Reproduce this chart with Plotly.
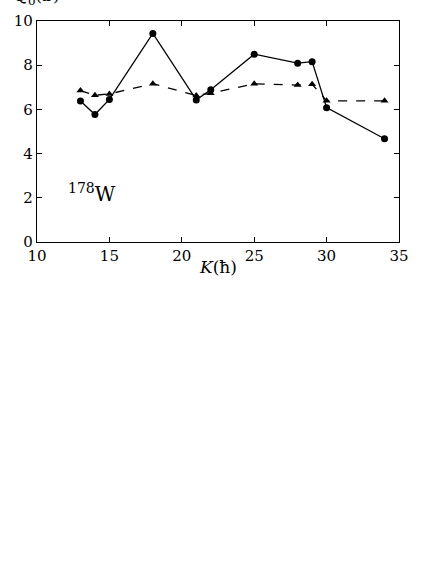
import plotly.graph_objects as go

# K values (hbar) and Q0 (b) for the two calculations
k_vals = [13, 14, 15, 18, 21, 22, 25, 28, 29, 30, 34]
q0_solid = [6.38, 5.77, 6.45, 9.44, 6.43, 6.89, 8.50, 8.09, 8.16, 6.08, 4.67]
q0_dashed = [6.85, 6.64, 6.70, 7.16, 6.63, 6.73, 7.16, 7.10, 7.14, 6.39, 6.39]

x_ticks = [10, 15, 20, 25, 30, 35]
y_ticks = [0, 2, 4, 6, 8, 10]

font_family = "DejaVu Serif"

fig = go.Figure()

fig.add_scatter(x=k_vals, y=q0_dashed, mode='lines+markers',
                line=dict(color='black', width=1.3, dash='dash'),
                marker=dict(symbol='triangle-up', size=7, color='black'),
                showlegend=False)

fig.add_scatter(x=k_vals, y=q0_solid, mode='lines+markers',
                line=dict(color='black', width=1.3),
                marker=dict(symbol='circle', size=7, color='black'),
                showlegend=False)

axis_style = dict(showgrid=False, zeroline=False, showline=True, linecolor='black',
                  linewidth=1.2, mirror='allticks', ticks='inside', ticklen=5,
                  tickcolor='black', ticklabeloverflow='allow',
                  tickfont=dict(family=font_family, size=15, color='black'))

fig.update_xaxes(range=[10, 35], tickvals=x_ticks, **axis_style)
fig.update_yaxes(range=[0, 10], tickvals=y_ticks, **axis_style)

fig.add_annotation(x=12.0, y=2.2, xref='x', yref='y', xanchor='left', yanchor='middle',
                   text='<sup>178</sup>W', showarrow=False,
                   font=dict(family=font_family, size=20, color='black'))

fig.add_annotation(x=0.5, y=0, xref='paper', yref='paper', yanchor='top', yshift=-13,
                   text='<i>K</i>(ħ)', showarrow=False,
                   font=dict(family=font_family, size=17, color='black'))

# y title sits mostly above the top edge, as in the original
fig.add_annotation(x=0.0, y=1, xref='paper', yref='paper', xanchor='center',
                   yanchor='bottom', yshift=11,
                   text='<i>Q</i><sub>0</sub>(b)', showarrow=False,
                   font=dict(family=font_family, size=17, color='black'))

fig.update_layout(width=436, height=564, plot_bgcolor='white', paper_bgcolor='white',
                  margin=dict(l=37, r=37, t=16, b=322))

fig.write_html("out.html", config={'displayModeBar': False},
               post_script="document.body.style.margin = '0';")
